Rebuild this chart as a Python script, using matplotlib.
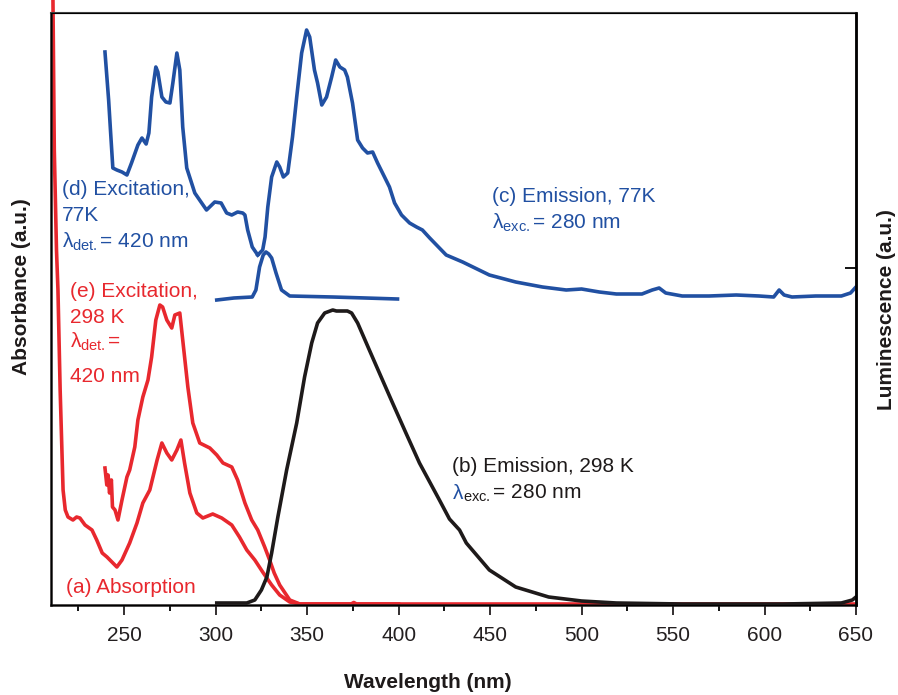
import matplotlib
matplotlib.use('Agg')
import matplotlib.pyplot as plt
from matplotlib.ticker import MultipleLocator

plt.rcParams['font.family'] = ['Liberation Sans', 'DejaVu Sans']
plt.rcParams['mathtext.fontset'] = 'custom'
plt.rcParams['mathtext.rm'] = 'Liberation Sans'
plt.rcParams['mathtext.it'] = 'Liberation Sans'

#####################################
# spectra (wavelength nm, intensity a.u.)
abs_nm = [211.0, 211.8, 213.0, 213.8, 215, 216.6, 217.8, 219.3, 222, 224, 225.8, 228.6, 232.4, 235, 238,
          240.6, 243.3, 246, 248.8, 253, 257, 260.2, 264, 268, 270.6, 273.3, 276, 278.8, 281, 283,
          285.9, 289.7, 293, 298.4, 303.3, 308.8, 313, 317, 321.4, 325.7, 330.6, 335, 340.5, 346,
          374, 375.5, 377, 650]
abs_y = [620, 455, 355, 315, 215, 115, 95, 88, 85, 88, 87, 80, 75, 65, 52,
         48, 43, 38, 45, 62, 82, 102, 115, 145, 162, 152, 145, 155, 165, 142,
         112, 92, 87, 91, 87, 80, 68, 55, 45, 33, 20, 10, 3, 1,
         1, 2.5, 1, 1]

exc298_nm = [239.5, 240.5, 241.2, 242, 243, 243.6, 245, 246.6, 248.8, 251.5, 253, 255.8, 257.5, 260.2,
             263, 265, 267.3, 269.5, 271, 273.3, 276, 277.7, 280.4, 282, 284.8, 287.5, 291.3, 296.8,
             300.6, 304, 308.8, 312, 316, 319.7, 323, 326.8, 329.5, 332, 335, 340.5, 346, 400]
exc298_y = [137, 120, 130, 112, 125, 98, 95, 85, 105, 128, 135, 158, 185, 208,
            225, 248, 285, 300, 298, 285, 277, 290, 292, 265, 218, 182, 162, 157,
            150, 142, 138, 125, 102, 85, 75, 58, 45, 32, 20, 5, 1, 1]

em298_nm = [300.6, 317, 321.4, 325, 328, 330.6, 334, 338.8, 344.3, 348.6, 352.5, 355.7, 359.6, 364,
            366, 369.4, 372, 374.3, 377.6, 384, 390.7, 396.7, 404, 411.4, 422.3, 427.8, 433.3, 437,
            449.6, 464, 482, 500, 519, 555, 610, 642, 648, 650]
em298_y = [2, 2, 5, 15, 28, 52, 88, 135, 182, 228, 262, 282, 292, 295,
           294, 294, 294, 292, 282, 255, 227, 202, 172, 142, 105, 86, 75, 62,
           35, 18, 8, 4, 2, 1, 1, 2, 5, 8]

exc77_nm = [239.5, 241.5, 242.5, 243.8, 246, 248.8, 251.5, 254, 257.5, 259.7, 262, 263.5, 265, 267.3,
            268.4, 270.6, 272.8, 275, 276.6, 278.8, 280.4, 282, 284.2, 288.6, 295, 299.5, 303, 306,
            308.8, 312, 314.8, 316, 317.5, 320, 323]
exc77_y = [553, 505, 475, 437, 435, 433, 430, 442, 460, 467, 461, 472, 508, 538,
           533, 508, 503, 502, 522, 552, 535, 478, 437, 412, 395, 403, 402, 392,
           390, 393, 392, 390, 375, 358, 350]

em77_nm = [323, 325.7, 327, 328.5, 330.6, 333.4, 335, 337, 339.4, 342, 344.3, 347, 349.7, 351.4,
           354, 355.7, 358, 360.6, 363.4, 365.6, 367.9, 370.5, 372, 374.8, 377.6, 380.3, 383, 385.8,
           388.5, 392.3, 395, 397.8, 401.6, 406, 409.8, 413, 417, 426, 435, 449.6, 464, 478.6,
           491.6, 500, 509.7, 519, 533, 538.6, 542.4, 546, 555, 569.7, 584.5, 597, 605, 608,
           610.7, 615, 628, 642, 647, 650]
em77_y = [350, 355, 368, 398, 428, 443, 438, 428, 432, 468, 508, 552, 575, 568,
          535, 522, 500, 508, 528, 545, 538, 535, 528, 502, 465, 457, 452, 453,
          442, 428, 418, 402, 390, 382, 378, 375, 367, 350, 343, 330, 323, 318,
          315, 316, 313, 311, 311, 315, 317, 312, 309, 309, 310, 309, 308, 315,
          310, 308, 309, 309, 312, 318]

scat77_nm = [300.6, 310, 320, 322, 324, 326, 327.5, 329, 330.6, 333, 336, 340.5, 364, 382, 399.4]
scat77_y = [305, 307, 308, 315, 338, 350, 353, 351, 347, 332, 315, 309, 308, 307, 306]

x_ticks = [250, 300, 350, 400, 450, 500, 550, 600, 650]
lum_tick = [337]
#####################################

red = '#e8282e'
blue = '#2150a2'
blk = '#1e1a1a'
lw = 2.6

fig = plt.figure(figsize=(8.98, 6.95), dpi=100)
ax = fig.add_axes([51/898, 90/695, 805/898, 592/695])

ax.plot(abs_nm, abs_y, color=red, lw=lw, clip_on=False, solid_joinstyle='round')
ax.plot(exc298_nm, exc298_y, color=red, lw=lw, solid_joinstyle='round')
ax.plot(em298_nm, em298_y, color=blk, lw=lw, solid_joinstyle='round')
ax.plot(exc77_nm, exc77_y, color=blue, lw=lw, solid_joinstyle='round')
ax.plot(em77_nm, em77_y, color=blue, lw=lw, solid_joinstyle='round')
ax.plot(scat77_nm, scat77_y, color=blue, lw=lw, solid_joinstyle='round')

ax.set_xlim(210, 650)
ax.set_ylim(0, 592)
ax.set_xticks(x_ticks)
ax.xaxis.set_minor_locator(MultipleLocator(25))
ax.tick_params(axis='x', which='major', direction='out', length=7, width=1.3,
               labelsize=15, pad=8, colors='#231f20')
ax.tick_params(axis='x', which='minor', direction='out', length=4, width=1.3)
for s in ['left', 'bottom', 'right']:
    ax.spines[s].set_linewidth(1.8)
    ax.spines[s].set_color(blk)
ax.spines['top'].set_linewidth(1.5)
ax.spines['top'].set_color('#444444')

# right luminescence axis, one inward tick
ax2 = ax.twinx()
ax2.set_ylim(0, 592)
ax2.set_yticks(lum_tick)
ax2.tick_params(axis='y', direction='in', length=8, width=1.3, labelright=False)
ax2.spines['right'].set_linewidth(1.8)
ax.tick_params(axis='y', which='both', left=False, right=False, labelleft=False)

fs = 15
ax.text(216, 410, '(d) Excitation,', color=blue, fontsize=fs)
ax.text(216, 384, '77K', color=blue, fontsize=fs)
ax.text(216, 357, r'λ$_{\mathrm{det.}}$= 420 nm', color=blue, fontsize=fs)

ax.text(220.4, 308, '(e) Excitation,', color=red, fontsize=fs)
ax.text(220.4, 282, '298 K', color=red, fontsize=fs)
ax.text(220.4, 257, r'λ$_{\mathrm{det.}}$=', color=red, fontsize=fs)
ax.text(220.4, 223, '420 nm', color=red, fontsize=fs)

ax.text(218.2, 12, '(a) Absorption', color=red, fontsize=fs)

ax.text(451.3, 403, '(c) Emission, 77K', color=blue, fontsize=fs)
ax.text(451.3, 376, r'λ$_{\mathrm{exc.}}$= 280 nm', color=blue, fontsize=fs)

ax.text(429.4, 133, '(b) Emission, 298 K', color=blk, fontsize=fs)
lam = ax.text(429.4, 106, 'λ', color=blue, fontsize=fs)
ax.annotate(r'$_{\mathrm{exc.}}$= 280 nm', xy=(1, 106), xycoords=(lam, 'data'),
            ha='left', va='baseline', color=blk, fontsize=fs)

fig.text(428/898, 1 - 683/695, 'Wavelength (nm)', fontsize=15, fontweight='bold',
         ha='center', va='center', color=blk)
fig.text(22/898, 1 - 287/695, 'Absorbance (a.u.)', fontsize=15, fontweight='bold',
         rotation=90, ha='center', va='center', color=blk)
fig.text(887/898, 1 - 310/695, 'Luminescence (a.u.)', fontsize=15, fontweight='bold',
         rotation=90, ha='center', va='center', color=blk)

fig.savefig('out.png', dpi=100)
